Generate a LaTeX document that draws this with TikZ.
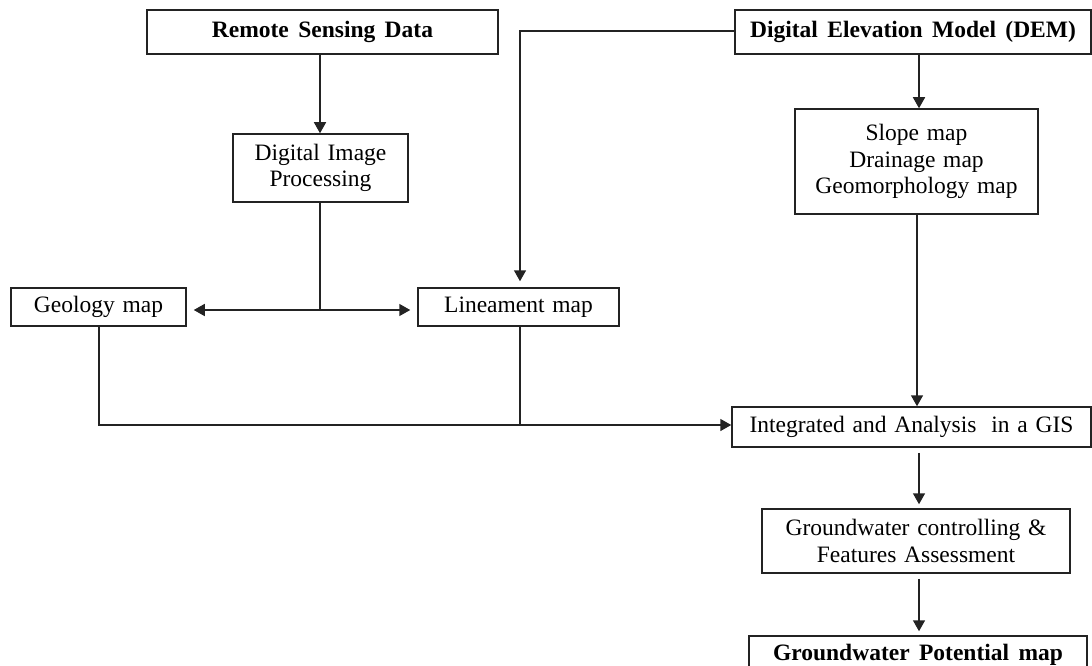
\documentclass[tikz,border=0pt]{standalone}
\usepackage{fontspec}
\setmainfont{Liberation Serif}
\usetikzlibrary{arrows.meta}
\definecolor{linecol}{RGB}{35,35,35}
\newcommand\regfont{\fontsize{23.5}{26.5}\selectfont\spaceskip=0.33em plus 0.1em\relax}
\newcommand\boldfont{\fontsize{23.5}{26.5}\selectfont\bfseries\spaceskip=0.4em plus 0.1em\relax}
\begin{document}
\begin{tikzpicture}[x=1pt,y=1pt,
  box/.style={draw=linecol, line width=1.5pt, inner sep=0pt, align=center,
    font=\regfont, text=black},
  bbox/.style={box, font=\boldfont},
  conn/.style={draw=linecol, line width=1.5pt},
  arr/.style={conn, -{Triangle[length=11pt,width=12pt]}},
]
\useasboundingbox (0,0) rectangle (1092,-666);
\clip (0,0) rectangle (1092,-666);
\fill[white] (0,0) rectangle (1092,-666);

% boxes
\node[bbox, minimum width=351pt, minimum height=44pt] (rsd) at (322.5,-32) {Remote Sensing Data};
\node[box, minimum width=175pt, minimum height=68pt] (dip) at (320.5,-168) {Digital Image\\Processing};
\node[box, minimum width=175pt, minimum height=38pt] (geo) at (98.5,-307) {Geology map};
\node[box, minimum width=201pt, minimum height=38pt] (lin) at (518.5,-307) {Lineament map};
\node[bbox, minimum width=356pt, minimum height=44pt] (dem) at (913,-32) {Digital Elevation Model (DEM)};
\node[box, minimum width=243pt, minimum height=105pt] (slope) at (916.5,-161.5) {Slope map\\Drainage map\\Geomorphology map};
\node[box, minimum width=359pt, minimum height=40pt] (gis) at (911.5,-427) {Integrated and Analysis\hspace{0.3em} in a GIS};
\node[box, minimum width=308pt, minimum height=64pt] (gw) at (916,-541) {Groundwater controlling \&\\Features Assessment};
\node[bbox, minimum width=338pt, minimum height=38pt] (gpm) at (918,-655) {Groundwater Potential map};

% helper coordinates
\coordinate (j) at (320,-310);
\coordinate (demc) at (520,-31);
\coordinate (geoc) at (99,-425);
\coordinate (linc) at (520,-425);

% connectors
\draw[arr] (rsd.south -| j) -- (dip.north -| j);
\draw[conn] (dip.south -| j) -- (j);
\draw[arr, shorten >=7pt] (j) -- (geo.east |- j);
\draw[arr, shorten >=7pt] (j) -- (lin.west |- j);
\draw[arr, shorten >=6pt] (dem.west |- demc) -- (demc) -- (lin.north -| demc);
\draw[arr] (dem.south -| 919,0) -- (slope.north -| 919,0);
\draw[arr] (slope.south -| 917,0) -- (gis.north -| 917,0);
\draw[arr] (geo.south -| geoc) -- (geoc) -- (gis.west |- geoc);
\draw[conn] (lin.south -| linc) -- (linc);
\draw[arr, shorten <=5pt, shorten >=4pt] (gis.south -| 919,0) -- (gw.north -| 919,0);
\draw[arr, shorten <=5pt, shorten >=4pt] (gw.south -| 919,0) -- (gpm.north -| 919,0);
\end{tikzpicture}
\end{document}
